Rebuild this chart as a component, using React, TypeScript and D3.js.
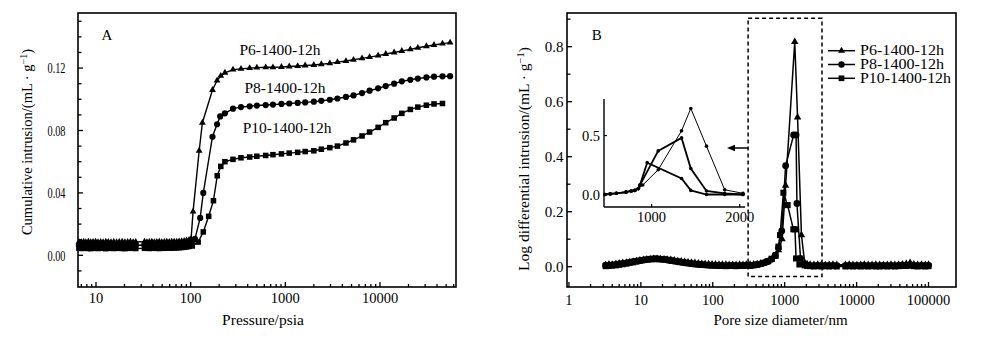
import React from 'react';
import * as d3 from 'd3';

const W = 1000;
const H = 344;
const FONT = '"Liberation Serif", "Times New Roman", Times, serif';

// ---------- Panel A: cumulative intrusion vs pressure ----------
const pressLow = [6.6, 7.0, 7.4, 7.8, 8.3, 8.8, 9.3, 9.9, 10.5, 11.2, 11.9, 12.7, 13.5, 14.4, 15.4, 16.5, 17.6, 18.9, 20.2, 21.6, 23.1, 24.7, 26.3, 32.5, 34.5, 36.6, 38.9, 41.3, 43.9, 46.6, 49.5, 52.6, 55.9, 59.4, 63.1, 67.0, 71.2, 75.6, 80.3, 85.3, 90.6, 96.2];
const p6LowA = [0.0086, 0.0084, 0.0087, 0.0085, 0.0088, 0.0084, 0.0086, 0.0087, 0.0085, 0.0086, 0.0084, 0.0087, 0.0086, 0.0085, 0.0087, 0.0084, 0.0086, 0.0088, 0.0085, 0.0086, 0.0087, 0.0085, 0.0086, 0.0087, 0.0085, 0.0086, 0.0088, 0.0085, 0.0086, 0.0087, 0.0085, 0.0086, 0.0088, 0.0086, 0.0087, 0.0088, 0.0087, 0.0089, 0.0090, 0.0092, 0.0095, 0.0099];
const p8LowA = [0.0066, 0.0064, 0.0065, 0.0067, 0.0064, 0.0066, 0.0065, 0.0063, 0.0066, 0.0065, 0.0067, 0.0064, 0.0066, 0.0065, 0.0064, 0.0066, 0.0065, 0.0067, 0.0064, 0.0065, 0.0066, 0.0064, 0.0065, 0.0066, 0.0064, 0.0065, 0.0067, 0.0065, 0.0064, 0.0066, 0.0065, 0.0066, 0.0067, 0.0066, 0.0067, 0.0068, 0.0068, 0.0069, 0.0071, 0.0073, 0.0076, 0.0079];
const p10LowA = [0.0046, 0.0044, 0.0045, 0.0047, 0.0044, 0.0043, 0.0046, 0.0045, 0.0044, 0.0046, 0.0045, 0.0043, 0.0045, 0.0046, 0.0044, 0.0045, 0.0046, 0.0044, 0.0043, 0.0045, 0.0046, 0.0045, 0.0044, 0.0045, 0.0046, 0.0044, 0.0045, 0.0046, 0.0045, 0.0044, 0.0046, 0.0045, 0.0046, 0.0047, 0.0046, 0.0047, 0.0048, 0.0049, 0.0050, 0.0052, 0.0054, 0.0057];

const p6StepP = [101, 106, 123, 133, 170, 190, 208];
const p6StepV = [0.0105, 0.028, 0.067, 0.085, 0.106, 0.112, 0.115];
const p8StepP = [103, 111, 126, 136, 170, 190, 205];
const p8StepV = [0.0082, 0.0105, 0.024, 0.040, 0.076, 0.084, 0.089];
const p10StepP = [104, 120, 136, 155, 174, 191, 208];
const p10StepV = [0.006, 0.0085, 0.015, 0.025, 0.035, 0.051, 0.057];

const pressHigh = [230, 280, 340, 420, 500, 620, 740, 910, 1100, 1350, 1620, 2000, 2400, 2950, 3550, 4370, 5250, 6460, 7760, 9550, 11500, 14100, 17000, 20900, 25100, 30900, 37200, 45700, 55000];
const p6HighA = [0.117, 0.119, 0.1195, 0.120, 0.1203, 0.1205, 0.1205, 0.1207, 0.121, 0.1213, 0.1217, 0.122, 0.1225, 0.123, 0.1238, 0.1245, 0.1253, 0.1262, 0.127, 0.128, 0.129, 0.130, 0.131, 0.132, 0.133, 0.134, 0.1348, 0.1357, 0.1363];
const p8HighA = [0.091, 0.094, 0.095, 0.0955, 0.096, 0.0963, 0.0966, 0.097, 0.0973, 0.0977, 0.098, 0.0985, 0.099, 0.0997, 0.1005, 0.1015, 0.1025, 0.104, 0.1055, 0.107, 0.1085, 0.110, 0.1115, 0.1125, 0.1133, 0.114, 0.1145, 0.1147, 0.1148];
const p10HighA = [0.060, 0.0615, 0.0625, 0.063, 0.0635, 0.064, 0.0645, 0.065, 0.0655, 0.066, 0.0665, 0.067, 0.068, 0.069, 0.070, 0.072, 0.074, 0.0765, 0.079, 0.082, 0.085, 0.088, 0.091, 0.0935, 0.095, 0.0962, 0.097, 0.0973];

// ---------- Panel B: log differential intrusion vs pore diameter ----------
const diamLow = [3.24, 3.6, 4.0, 4.5, 5.0, 5.6, 6.3, 7.0, 7.8, 8.7, 9.7, 10.8, 12.1, 13.5, 15.1, 16.8, 18.8, 21.0, 23.4, 26.1, 29.2, 32.6, 36.4, 40.6, 45.3, 50.5, 56.4, 63.0, 70.3, 78.4, 87.6, 97.7, 109, 122, 136, 152, 169, 189, 211, 236, 263, 293];
const p6LowB = [0.006, 0.009, 0.008, 0.011, 0.012, 0.014, 0.015, 0.017, 0.019, 0.021, 0.023, 0.025, 0.027, 0.028, 0.029, 0.029, 0.028, 0.027, 0.026, 0.025, 0.023, 0.021, 0.020, 0.018, 0.016, 0.015, 0.014, 0.012, 0.011, 0.010, 0.010, 0.009, 0.009, 0.008, 0.008, 0.008, 0.007, 0.007, 0.007, 0.008, 0.007, 0.008];
const p8LowB = [0.006, 0.005, 0.007, 0.008, 0.010, 0.012, 0.014, 0.016, 0.018, 0.020, 0.022, 0.024, 0.026, 0.027, 0.028, 0.028, 0.027, 0.026, 0.024, 0.022, 0.020, 0.018, 0.016, 0.014, 0.013, 0.011, 0.010, 0.009, 0.008, 0.007, 0.006, 0.006, 0.005, 0.005, 0.004, 0.004, 0.004, 0.005, 0.004, 0.004, 0.005, 0.006];
const p10LowB = [0.002, 0.003, 0.004, 0.005, 0.007, 0.009, 0.011, 0.014, 0.016, 0.019, 0.022, 0.024, 0.026, 0.028, 0.029, 0.029, 0.028, 0.027, 0.025, 0.023, 0.021, 0.019, 0.017, 0.015, 0.013, 0.011, 0.009, 0.008, 0.007, 0.006, 0.005, 0.004, 0.004, 0.003, 0.003, 0.002, 0.003, 0.003, 0.002, 0.003, 0.003, 0.004];

const p6PeakD = [330, 370, 415, 465, 520, 585, 655, 735, 820, 920, 1030, 1380, 1510, 1710, 1900];
const p6PeakV = [0.008, 0.009, 0.010, 0.012, 0.015, 0.019, 0.026, 0.037, 0.060, 0.10, 0.295, 0.818, 0.543, 0.115, 0.014];
const p8PeakD = [330, 370, 415, 465, 520, 585, 655, 735, 820, 910, 1030, 1330, 1440, 1480, 1660, 1900];
const p8PeakV = [0.005, 0.006, 0.008, 0.010, 0.014, 0.019, 0.027, 0.040, 0.068, 0.13, 0.367, 0.479, 0.479, 0.23, 0.03, 0.01];
const p10PeakD = [330, 370, 415, 465, 520, 585, 655, 750, 818, 863, 959, 1099, 1320, 1390, 1440, 1600, 1900];
const p10PeakV = [0.003, 0.005, 0.007, 0.010, 0.014, 0.020, 0.029, 0.042, 0.073, 0.115, 0.269, 0.224, 0.136, 0.136, 0.03, 0.008, 0.005];

const diamHigh = [2050, 2260, 2550, 2880, 3250, 3670, 4150, 4690, 5300, 6990, 7890, 8910, 10100, 11400, 12800, 14500, 16400, 18500, 20900, 23600, 26700, 30100, 34000, 38400, 43400, 49000, 55400, 62500, 70600, 79800, 90100, 100000];
const p6HighB = [0.010, 0.008, 0.007, 0.008, 0.007, 0.006, 0.007, 0.008, 0.007, 0.007, 0.008, 0.007, 0.006, 0.007, 0.008, 0.007, 0.007, 0.008, 0.007, 0.006, 0.007, 0.008, 0.007, 0.008, 0.009, 0.011, 0.014, 0.009, 0.007, 0.008, 0.007, 0.008];
const p8HighB = [0.006, 0.005, 0.004, 0.005, 0.004, 0.005, 0.004, 0.005, 0.004, 0.004, 0.005, 0.004, 0.005, 0.004, 0.005, 0.004, 0.005, 0.004, 0.004, 0.005, 0.004, 0.005, 0.004, 0.005, 0.006, 0.006, 0.007, 0.005, 0.004, 0.005, 0.004, 0.005];
const p10HighB = [0.003, 0.002, 0.001, 0.002, 0.001, 0.002, 0.001, 0.002, 0.001, 0.001, 0.002, 0.001, 0.002, 0.001, 0.002, 0.001, 0.002, 0.001, 0.001, 0.002, 0.001, 0.002, 0.001, 0.002, 0.003, 0.003, 0.004, 0.002, 0.001, 0.002, 0.001, 0.002];

// Inset (linear pore diameter)
const inP6D = [470, 530, 600, 710, 770, 810, 850, 900, 1075, 1340, 1445, 1623, 1830, 2037];
const inP6V = [0.0, 0.005, 0.01, 0.02, 0.03, 0.035, 0.05, 0.08, 0.21, 0.54, 0.73, 0.41, 0.04, 0.01];
const inP8D = [470, 530, 600, 710, 770, 810, 850, 868, 1075, 1340, 1445, 1623, 1830, 2037];
const inP8V = [0.0, 0.005, 0.01, 0.02, 0.03, 0.035, 0.05, 0.08, 0.37, 0.48, 0.22, 0.03, 0.01, 0.0];
const inP10D = [470, 530, 600, 710, 770, 810, 850, 868, 950, 1340, 1445, 1623, 1830, 2037];
const inP10V = [0.0, 0.005, 0.01, 0.02, 0.03, 0.035, 0.05, 0.08, 0.27, 0.136, 0.035, 0.0, 0.0, 0.0];

const seriesNames = ['P6-1400-12h', 'P8-1400-12h', 'P10-1400-12h'];
const markerTypes = ['triangle', 'circle', 'square'];

// zoom box in data units (diameter nm, intensity)
const boxD = [310, 3300];
const boxV = [-0.036, 0.903];

const yTicksA = [0, 0.04, 0.08, 0.12];
const xTicksA = [10, 100, 1000, 10000];
const yTicksB = [0, 0.2, 0.4, 0.6, 0.8];
const xTicksB = [1, 10, 100, 1000, 10000, 100000];

function zip(xs: number[], ys: number[]): [number, number][] {
  const n = Math.min(xs.length, ys.length);
  const out: [number, number][] = [];
  for (let i = 0; i < n; i++) out.push([xs[i], ys[i]]);
  return out;
}

const seriesA = [
  [...zip(pressLow, p6LowA), ...zip(p6StepP, p6StepV), ...zip(pressHigh, p6HighA)],
  [...zip(pressLow, p8LowA), ...zip(p8StepP, p8StepV), ...zip(pressHigh, p8HighA)],
  [...zip(pressLow, p10LowA), ...zip(p10StepP, p10StepV), ...zip(pressHigh, p10HighA)],
];
const seriesB = [
  [...zip(diamLow, p6LowB), ...zip(p6PeakD, p6PeakV), ...zip(diamHigh, p6HighB)],
  [...zip(diamLow, p8LowB), ...zip(p8PeakD, p8PeakV), ...zip(diamHigh, p8HighB)],
  [...zip(diamLow, p10LowB), ...zip(p10PeakD, p10PeakV), ...zip(diamHigh, p10HighB)],
];
const seriesI = [zip(inP6D, inP6V), zip(inP8D, inP8V), zip(inP10D, inP10V)];

function symbolPath(type: string, s: number) {
  if (type === 'triangle') return d3.symbol(d3.symbolTriangle, (Math.sqrt(3) / 4) * s * s * 1.2)()!;
  if (type === 'circle') return d3.symbol(d3.symbolCircle, Math.PI * (s / 2) * (s / 2))()!;
  return d3.symbol(d3.symbolSquare, s * s * 0.8)()!;
}

function minorLogTicks(lo: number, hi: number) {
  const out: number[] = [];
  for (let e = -1; e <= 6; e++) {
    for (let m = 2; m <= 9; m++) {
      const v = m * Math.pow(10, e);
      if (v >= lo && v <= hi) out.push(v);
    }
  }
  return out;
}

export default function App() {
  const xA = d3.scaleLog().domain([6.455, 63500]).range([78, 456]);
  const yA = d3.scaleLinear().domain([-0.0203, 0.1553]).range([287, 13]);
  const xB = d3.scaleLog().domain([0.94, 241000]).range([567, 956]);
  const yB = d3.scaleLinear().domain([-0.0738, 0.9225]).range([287, 13]);
  const xI = d3.scaleLinear().domain([460, 2060]).range([604, 745]);
  const yI = d3.scaleLinear().domain([-0.106, 0.81]).range([207, 99]);

  const lineA = d3.line<[number, number]>().x(d => xA(d[0])).y(d => yA(d[1]));
  const lineB = d3.line<[number, number]>().x(d => xB(d[0])).y(d => yB(d[1]));
  const lineI = d3.line<[number, number]>().x(d => xI(d[0])).y(d => yI(d[1]));

  const markA = markerTypes.map(t => symbolPath(t, 6.2));
  const markB = markerTypes.map(t => symbolPath(t, 6.8));
  const markL = markerTypes.map(t => symbolPath(t, 6.4));

  const minorYA = d3.range(-0.01, 0.1551, 0.01).map(v => Math.round(v * 1000) / 1000);
  const minorXA = minorLogTicks(6.455, 63500);
  const minorYB = d3.range(0, 0.91, 0.1).map(v => Math.round(v * 100) / 100);
  const minorXB = minorLogTicks(1, 100000);

  const txt = { fontFamily: FONT, fill: '#000' } as const;
  const legendLen = [84, 84, 91];

  return (
    <svg width={W} height={H} viewBox={`0 0 ${W} ${H}`} style={{ position: 'absolute', left: 0, top: 0, background: '#fff' }}>
      <rect x={0} y={0} width={W} height={H} fill="#fff" />

      {/* ================= Panel A ================= */}
      <g>
        {seriesA.map((s, i) => (
          <g key={'a' + i}>
            <path d={lineA(s)!} fill="none" stroke="#000" strokeWidth={1.4} />
            {s.map((d, j) => (
              <path key={j} d={markA[i]} transform={`translate(${xA(d[0])},${yA(d[1])})`} fill="#000" />
            ))}
          </g>
        ))}
        <rect x={78} y={13} width={378} height={274} fill="none" stroke="#000" strokeWidth={1.6} />
        {minorYA.map((v, i) => {
          const major = yTicksA.some(t => Math.abs(t - v) < 1e-6);
          return <line key={'ya' + i} x1={78} x2={78 + (major ? 5 : 3.5)} y1={yA(v)} y2={yA(v)} stroke="#000" strokeWidth={1.3} />;
        })}
        {yTicksA.map((v, i) => (
          <text key={'yal' + i} x={65.5} y={yA(v)} dy="0.35em" textAnchor="end" fontSize={15} textLength={18} lengthAdjust="spacingAndGlyphs" {...txt}>
            {d3.format('.2f')(v)}
          </text>
        ))}
        {minorXA.map((v, i) => (
          <line key={'xam' + i} x1={xA(v)} x2={xA(v)} y1={287} y2={284} stroke="#000" strokeWidth={1.3} />
        ))}
        {xTicksA.map((v, i) => (
          <g key={'xa' + i}>
            <line x1={xA(v)} x2={xA(v)} y1={287} y2={282} stroke="#000" strokeWidth={1.3} />
            <text x={xA(v)} y={303} textAnchor="middle" fontSize={14.5} {...txt}>{v}</text>
          </g>
        ))}
        <text x={263} y={325} textAnchor="middle" fontSize={15.5} {...txt}>Pressure/psia</text>
        <text transform="translate(32,142) rotate(-90)" textAnchor="middle" fontSize={14.5} {...txt}>
          Cumulative intrusion/(mL · g<tspan dy={-5} fontSize={10}>−1</tspan><tspan dy={5}>)</tspan>
        </text>
        <text x={107} y={40} textAnchor="middle" fontSize={15} {...txt}>A</text>
        <text x={239.5} y={55} fontSize={15.5} {...txt}>{seriesNames[0]}</text>
        <text x={244.5} y={92.7} fontSize={15.5} {...txt}>{seriesNames[1]}</text>
        <text x={242.7} y={132.7} fontSize={15.5} {...txt}>{seriesNames[2]}</text>
      </g>

      {/* ================= Panel B ================= */}
      <g>
        {seriesB.map((s, i) => (
          <g key={'b' + i}>
            <path d={lineB(s)!} fill="none" stroke="#000" strokeWidth={1.5} />
            {s.map((d, j) => (
              <path key={j} d={markB[i]} transform={`translate(${xB(d[0])},${yB(d[1])})`} fill="#000" />
            ))}
          </g>
        ))}
        <rect x={567} y={13} width={389} height={274} fill="none" stroke="#000" strokeWidth={1.6} />
        {minorYB.map((v, i) => {
          const major = yTicksB.some(t => Math.abs(t - v) < 1e-6);
          return <line key={'yb' + i} x1={567} x2={567 + (major ? 5 : 3.5)} y1={yB(v)} y2={yB(v)} stroke="#000" strokeWidth={1.3} />;
        })}
        {yTicksB.map((v, i) => (
          <text key={'ybl' + i} x={563.5} y={yB(v)} dy="0.35em" textAnchor="end" fontSize={15} {...txt}>
            {d3.format('.1f')(v)}
          </text>
        ))}
        {minorXB.map((v, i) => (
          <line key={'xbm' + i} x1={xB(v)} x2={xB(v)} y1={287} y2={284} stroke="#000" strokeWidth={1.3} />
        ))}
        {xTicksB.map((v, i) => (
          <g key={'xb' + i}>
            <line x1={xB(v)} x2={xB(v)} y1={287} y2={282} stroke="#000" strokeWidth={1.3} />
            <text x={xB(v)} y={305} textAnchor="middle" fontSize={14.5} {...txt}>{v}</text>
          </g>
        ))}
        <text x={780.5} y={325} textAnchor="middle" fontSize={15} {...txt}>Pore size diameter/nm</text>
        <text transform="translate(529,159) rotate(-90)" textAnchor="middle" fontSize={15.5} {...txt}>
          Log differential intrusion/(mL · g<tspan dy={-5} fontSize={10.5}>−1</tspan><tspan dy={5}>)</tspan>
        </text>
        <text x={596.7} y={40} textAnchor="middle" fontSize={15} {...txt}>B</text>

        {/* zoom box */}
        <rect x={xB(boxD[0])} y={yB(boxV[1])} width={xB(boxD[1]) - xB(boxD[0])} height={yB(boxV[0]) - yB(boxV[1])}
          fill="none" stroke="#000" strokeWidth={1.5} strokeDasharray="4,3" />

        {/* arrow */}
        <line x1={748} x2={733} y1={148} y2={148} stroke="#000" strokeWidth={1.5} />
        <polygon points="727,148 735,144.8 735,151.2" fill="#000" />

        {/* legend */}
        {seriesNames.map((n, i) => {
          const y = 50.7 + i * 13.8;
          return (
            <g key={'lg' + i}>
              <line x1={828} x2={855} y1={y} y2={y} stroke="#000" strokeWidth={1.5} />
              <path d={markL[i]} transform={`translate(841.5,${y})`} fill="#000" />
              <text x={860} y={y} dy="0.33em" fontSize={14} textLength={legendLen[i]} lengthAdjust="spacingAndGlyphs" {...txt}>{n}</text>
            </g>
          );
        })}

        {/* inset */}
        <g>
          {seriesI.map((s, i) => (
            <g key={'in' + i}>
              <path d={lineI(s)!} fill="none" stroke="#000" strokeWidth={i === 0 ? 1 : 1.8} />
              {s.map((d, j) => (
                <circle key={j} cx={xI(d[0])} cy={yI(d[1])} r={1.8} fill="#000" />
              ))}
            </g>
          ))}
          <line x1={604} x2={604} y1={99} y2={207} stroke="#000" strokeWidth={1.4} />
          <line x1={604} x2={745} y1={207} y2={207} stroke="#000" strokeWidth={1.4} />
          {[0, 0.5].map((v, i) => (
            <g key={'iy' + i}>
              <line x1={604} x2={607} y1={yI(v)} y2={yI(v)} stroke="#000" strokeWidth={1.2} />
              <text x={600} y={yI(v)} dy="0.35em" textAnchor="end" fontSize={14.5} {...txt}>{d3.format('.1f')(v)}</text>
            </g>
          ))}
          {[1000, 2000].map((v, i) => (
            <g key={'ix' + i}>
              <line x1={xI(v)} x2={xI(v)} y1={207} y2={204} stroke="#000" strokeWidth={1.2} />
              <text x={xI(v)} y={222} textAnchor="middle" fontSize={14.5} {...txt}>{v}</text>
            </g>
          ))}
        </g>
      </g>
    </svg>
  );
}
